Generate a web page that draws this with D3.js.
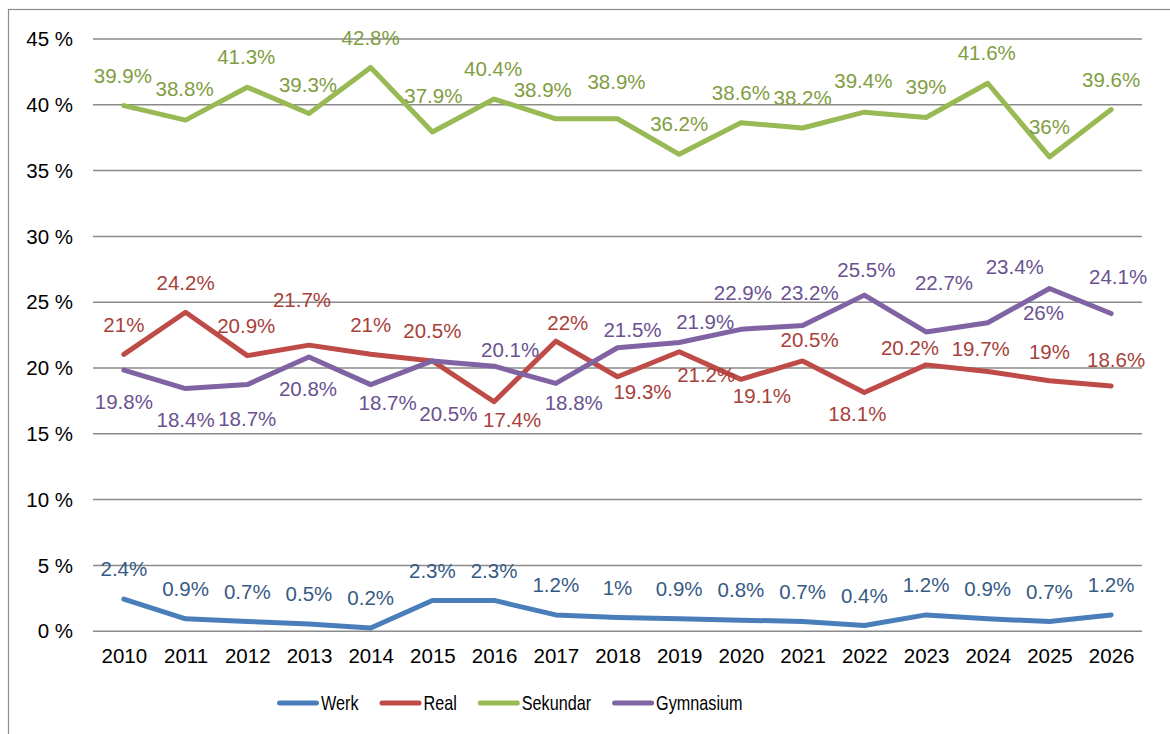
<!DOCTYPE html>
<html lang="de">
<head>
    <meta charset="UTF-8">
    <script src="https://d3js.org/d3.v7.min.js"></script>
    <title>Anteile Schultypen 2010 - 2026</title>
    <style>
        body {
            margin: 0;
            background: #fff;
        }
        svg {
            font-family: "Liberation Sans", Arial, sans-serif;
            display: block;
        }
        .grid line {
            stroke: #8a8a8a;
            stroke-width: 1.5;
        }
        .tick text {
            font-size: 20.5px;
            fill: #000;
        }
        .serie {
            fill: none;
            stroke-width: 5;
            stroke-linejoin: round;
            stroke-linecap: round;
        }
        .wert {
            font-size: 20.5px;
        }
        .legende text {
            font-size: 20.5px;
            fill: #000;
        }
    </style>
</head>
<body>
    <div id="chart"></div>

    <script>
        // Daten
        const jahre = ["2010", "2011", "2012", "2013", "2014", "2015", "2016", "2017", "2018",
                       "2019", "2020", "2021", "2022", "2023", "2024", "2025", "2026"];
        const yTicks = [0, 5, 10, 15, 20, 25, 30, 35, 40, 45];

        const werk = [2.4, 0.9, 0.7, 0.5, 0.2, 2.3, 2.3, 1.2, 1, 0.9, 0.8, 0.7, 0.4, 1.2, 0.9, 0.7, 1.2];
        const real = [21, 24.2, 20.9, 21.7, 21, 20.5, 17.4, 22, 19.3, 21.2, 19.1, 20.5, 18.1, 20.2, 19.7, 19, 18.6];
        const sekundar = [39.9, 38.8, 41.3, 39.3, 42.8, 37.9, 40.4, 38.9, 38.9, 36.2, 38.6, 38.2, 39.4, 39, 41.6, 36, 39.6];
        const gymnasium = [19.8, 18.4, 18.7, 20.8, 18.7, 20.5, 20.1, 18.8, 21.5, 21.9, 22.9, 23.2, 25.5, 22.7, 23.4, 26, 24.1];

        // Verschiebung der Beschriftungen (dx, dy in px), wie im Original von Hand gesetzt
        const werkLabel = jahre.map(() => [0, -30]);
        const realLabel = [[0,-30],[0,-29],[-1,-30],[-7,-45],[0,-30],[0,-30],[18,18],[12,-18],[25,15],
                           [27,23],[21,16],[7,-21],[-7,21],[-16,-17],[-7,-23],[0,-29],[5,-26]];
        const sekundarLabel = [[-1,-30],[-1,-31],[-1,-30],[-1,-29],[0,-30],[1,-36],[-1,-30],[-13,-29],[-1,-37],
                               [0,-30],[0,-30],[0,-30],[-1,-31],[0,-31],[-1,-30],[0,-30],[0,-30]];
        const gymLabel = [[0,32],[0,31],[0,34],[-1,32],[17,18],[16,53],[16,-16],[18,20],[15,-18],
                          [26,-21],[2,-37],[7,-33],[2,-25],[18,-49],[27,-56],[-6,24],[7,-37]];

        const serien = [
            { name: "Werk", werte: werk, farbe: "#4a7ebb", textFarbe: "#375a85", label: werkLabel },
            { name: "Real", werte: real, farbe: "#be4b48", textFarbe: "#a83f3b", label: realLabel },
            { name: "Sekundar", werte: sekundar, farbe: "#98b954", textFarbe: "#7f9d41", label: sekundarLabel },
            { name: "Gymnasium", werte: gymnasium, farbe: "#7f63a2", textFarbe: "#6a5290", label: gymLabel }
        ];

        const width = 1170;
        const height = 734;
        const plot = { left: 93, right: 1142, top: 38.5, bottom: 630.7 };

        const svg = d3.select("#chart")
            .append("svg")
            .attr("width", width)
            .attr("height", height);

        // Rahmen
        svg.append("rect")
            .attr("x", 8.5)
            .attr("y", 9.5)
            .attr("width", 1300)
            .attr("height", 900)
            .attr("fill", "none")
            .attr("stroke", "#8c8c8c")
            .attr("stroke-width", 1.2);

        // Skalen
        const x = d3.scalePoint()
            .domain(jahre)
            .range([plot.left, plot.right])
            .padding(0.5);

        const y = d3.scaleLinear()
            .domain([0, 45])
            .range([plot.bottom, plot.top]);

        // Y-Achse mit Gitterlinien
        svg.append("g")
            .attr("class", "grid")
            .attr("transform", `translate(${plot.left},0)`)
            .call(d3.axisLeft(y)
                .tickValues(yTicks)
                .tickSize(-(plot.right - plot.left))
                .tickPadding(20)
                .tickFormat(d => d + " %"))
            .call(g => g.select(".domain").remove())
            .call(g => g.selectAll(".tick text").attr("dy", "0.35em"));

        // X-Achse (nur Jahreszahlen)
        svg.append("g")
            .attr("transform", `translate(0,${plot.bottom})`)
            .call(d3.axisBottom(x).tickSize(0))
            .call(g => g.select(".domain").remove())
            .call(g => g.selectAll(".tick text").attr("y", 25.5).attr("dy", "0.35em"));

        const linie = d3.line()
            .x((d, i) => x(jahre[i]))
            .y(d => y(d));

        // Linien
        serien.forEach(s => {
            svg.append("path")
                .datum(s.werte)
                .attr("class", "serie")
                .attr("stroke", s.farbe)
                .attr("d", linie);
        });

        // Beschriftungen
        serien.forEach(s => {
            svg.append("g")
                .selectAll("text")
                .data(s.werte)
                .join("text")
                .attr("class", "wert")
                .attr("fill", s.textFarbe)
                .attr("text-anchor", "middle")
                .attr("x", (d, i) => x(jahre[i]) + s.label[i][0])
                .attr("y", (d, i) => y(d) + s.label[i][1])
                .attr("dy", "0.35em")
                .text(d => d + "%");
        });

        // Legende
        const legende = svg.append("g")
            .attr("class", "legende")
            .attr("transform", "translate(277,703)");

        let pos = 0;
        serien.forEach(s => {
            const item = legende.append("g").attr("transform", `translate(${pos},0)`);
            item.append("line")
                .attr("x1", 2.5)
                .attr("x2", 39.5)
                .attr("stroke", s.farbe)
                .attr("stroke-width", 5)
                .attr("stroke-linecap", "round");
            const t = item.append("text")
                .attr("transform", "translate(44,0) scale(0.79,1)")
                .attr("dy", "0.35em")
                .text(s.name);
            const w = t.node().getComputedTextLength() * 0.79;
            pos += 44 + w + 21;
        });
    </script>
</body>
</html>
